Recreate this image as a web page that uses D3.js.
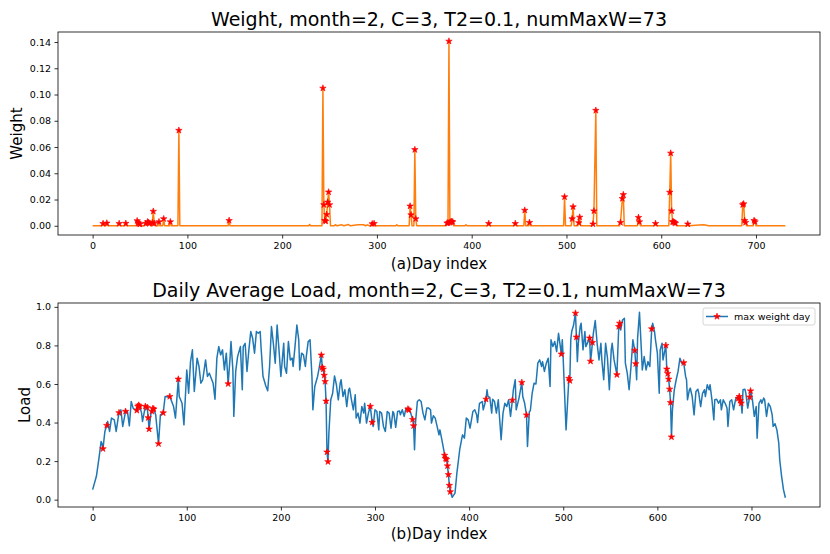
<!DOCTYPE html>
<html>
<head>
<meta charset="utf-8">
<script src="https://cdn.jsdelivr.net/npm/d3@7"></script>
<style>
  body { margin: 0; background: #fff; }
  svg { font-family: "DejaVu Sans", sans-serif; }
</style>
</head>
<body>
<div id="chart"></div>
<script>
// Days flagged as max-weight days (numMaxW = 73)
const maxDays = [11, 15, 28, 35, 47, 48, 49, 50, 56, 58, 59, 60, 63, 64, 65, 70, 75, 82, 91, 144,
    243, 244, 245, 246, 247, 248, 249, 250, 295, 297, 335, 336, 340, 341,
    374, 375, 376, 377, 378, 379, 380, 418, 446, 456, 461, 498, 506, 507, 513, 514,
    528, 529, 531, 557, 559, 560, 576, 577, 594, 609, 610, 611, 612, 613, 614, 615,
    628, 686, 687, 688, 689, 698, 699];

// Weight curve: listed only around the places where it leaves zero
const weightDays = [0, 10, 11, 12, 14, 15, 16, 27, 28, 29, 34, 35, 36, 46, 47, 48, 49, 50, 51, 55, 56, 57, 58, 59, 60,
    61, 62, 63, 64, 65, 66, 69, 70, 71, 74, 75, 76, 81, 82, 83, 90, 91, 92, 143, 144, 145, 228, 229, 230,
    242, 243, 244, 245, 246, 247, 248, 249, 250, 251, 255, 256, 258, 263, 265, 270, 272, 280, 286, 288, 290, 292,
    294, 295, 296, 297, 298, 320, 321, 322, 334, 335, 336, 337, 339, 340, 341, 342,
    373, 374, 375, 376, 377, 378, 379, 380, 381, 393, 394, 395, 417, 418, 419, 445, 446, 447, 455, 456, 457,
    460, 461, 462, 497, 498, 499, 505, 506, 507, 508, 512, 513, 514, 515, 527, 528, 529, 531, 532,
    556, 557, 559, 560, 561, 575, 576, 577, 578, 593, 594, 595, 608, 609, 610, 611, 612, 613, 614, 615, 616,
    627, 628, 629, 640, 645, 650, 685, 686, 687, 688, 689, 690, 697, 698, 699, 700, 731];
const weightValues = [0, 0, 0.0017, 0, 0, 0.002, 0, 0, 0.0017, 0, 0, 0.0018, 0, 0, 0.0038, 0.0022, 0.0015, 0.0012, 0, 0, 0.0018, 0.0006, 0.003, 0.0025, 0.0018,
    0, 0, 0.0022, 0.011, 0.0018, 0, 0, 0.003, 0, 0, 0.0053, 0, 0, 0.003, 0, 0, 0.0727, 0, 0, 0.004, 0, 0, 0.001, 0,
    0, 0.1048, 0.016, 0.004, 0.0035, 0.0086, 0.018, 0.0257, 0.016, 0, 0, 0.0008, 0, 0.0007, 0, 0.0009, 0, 0.0008, 0.0008, 0, 0.0007, 0,
    0, 0.0015, 0.0005, 0.0017, 0, 0, 0.0008, 0, 0, 0.015, 0.0083, 0, 0, 0.058, 0.0053, 0,
    0, 0.002, 0.0022, 0.1406, 0.0025, 0.003, 0.0032, 0.003, 0, 0, 0.0008, 0, 0, 0.0017, 0, 0, 0.0017, 0, 0, 0.0118, 0,
    0, 0.0025, 0, 0, 0.022, 0, 0, 0.0053, 0.0144, 0, 0, 0.0023, 0.0065, 0, 0, 0.0013, 0.0113, 0.0879, 0,
    0, 0.0025, 0.0207, 0.0237, 0, 0, 0.0063, 0.003, 0, 0, 0.0017, 0, 0, 0.0255, 0.0553, 0.0113, 0.003, 0.003, 0.0025, 0.002, 0,
    0, 0.0013, 0, 0.0006, 0.0007, 0, 0, 0.016, 0.0167, 0.004, 0.0025, 0, 0, 0.004, 0.003, 0, 0];

// Daily average load
const loadDays = [0, 4, 7, 9, 10, 11, 13, 15, 16, 18, 20, 23, 25, 28, 30, 32, 35, 37, 39, 41, 43, 45, 47, 48, 49, 50,
    52, 53, 56, 57, 58, 59, 60, 62, 63, 64, 65, 67, 70, 72, 75, 77, 80, 82, 84, 86, 88, 91, 92, 95, 97,
    100, 102, 104, 106, 108, 111, 113, 115, 117, 120, 122, 124, 126, 128, 130, 132, 134, 136, 138, 140, 142, 144, 146, 147, 149,
    150, 152, 154, 157, 159, 160, 162, 164, 166, 168, 170, 172, 174, 176, 178, 179, 181, 184, 186, 188, 190, 192, 194, 196, 198,
    200, 203, 204, 206, 208, 210, 212, 213, 215, 217, 219, 220, 222, 224, 226, 227, 229, 231, 233, 234, 236, 239, 241,
    243, 244, 245, 246, 247, 248, 249, 250, 251, 253, 255, 257, 259, 261, 263, 264, 266, 268, 270, 272, 273, 275, 277, 279,
    280, 282, 284, 286, 288, 289, 291, 293, 295, 297, 298, 300, 302, 304, 305, 307, 309, 311, 313, 315, 317, 319, 320, 322, 324,
    326, 327, 329, 331, 333, 335, 336, 338, 340, 341, 342, 343, 345, 347, 349, 351, 353, 355, 357, 359, 360, 362, 364, 366, 368,
    369, 371, 373, 374, 375, 376, 377, 378, 379, 380, 382, 385, 387, 390, 392, 393, 395, 397, 399, 401, 404, 406, 408, 409,
    411, 414, 415, 418, 419, 420, 422, 424, 425, 427, 429, 431, 432, 434, 436, 438, 440, 442, 444, 446, 447, 449, 450, 453,
    456, 457, 459, 461, 462, 464, 465, 467, 469, 471, 473, 475, 477, 478, 480, 482, 484, 486, 487, 489, 491, 493, 495, 498, 499,
    500, 503, 506, 507, 508, 509, 511, 513, 514, 515, 516, 518, 519, 521, 523, 524, 528, 529, 530, 531, 532, 534, 536, 538,
    540, 541, 543, 545, 547, 549, 551, 552, 554, 557, 559, 560, 561, 563, 565, 566, 568, 570, 572, 574, 576, 577, 578, 579,
    581, 583, 584, 586, 588, 590, 592, 594, 595, 597, 598, 600, 602, 603, 605, 606, 609, 610, 611, 612, 613, 614, 615, 616, 618,
    620, 622, 624, 626, 628, 630, 631, 632, 634, 635, 637, 639, 641, 643, 644, 646, 648, 650, 651, 653, 655, 656, 658,
    660, 661, 663, 665, 667, 668, 670, 672, 674, 675, 677, 679, 681, 683, 684, 686, 687, 688, 689, 690, 691, 693, 694, 696, 698, 699,
    700, 701, 703, 705, 706, 708, 710, 711, 713, 714, 716, 718, 720, 722, 723, 725, 727, 729, 730, 732, 734, 736];
const loadValues = [0.052, 0.121, 0.225, 0.302, 0.29, 0.264, 0.354, 0.385, 0.406, 0.354, 0.423, 0.414, 0.354, 0.451, 0.466, 0.38, 0.458, 0.457, 0.383, 0.509, 0.475, 0.466, 0.463, 0.484, 0.49, 0.484,
    0.449, 0.406, 0.484, 0.48, 0.478, 0.425, 0.366, 0.449, 0.458, 0.473, 0.47, 0.44, 0.29, 0.44, 0.45, 0.535, 0.532, 0.535, 0.509, 0.483, 0.423, 0.625, 0.535, 0.5, 0.388,
    0.673, 0.552, 0.716, 0.777, 0.561, 0.734, 0.691, 0.604, 0.622, 0.725, 0.639, 0.656, 0.63, 0.604, 0.521, 0.734, 0.794, 0.751, 0.777, 0.673, 0.76, 0.601, 0.734, 0.82, 0.673,
    0.432, 0.665, 0.742, 0.794, 0.57, 0.794, 0.811, 0.665, 0.777, 0.872, 0.837, 0.76, 0.872, 0.863, 0.872, 0.785, 0.64, 0.59, 0.565, 0.691, 0.898, 0.811, 0.708, 0.906, 0.777,
    0.639, 0.811, 0.691, 0.656, 0.82, 0.725, 0.734, 0.691, 0.794, 0.906, 0.829, 0.673, 0.76, 0.751, 0.691, 0.742, 0.82, 0.829, 0.639, 0.466, 0.587, 0.639, 0.691,
    0.75, 0.686, 0.677, 0.645, 0.613, 0.511, 0.247, 0.197, 0.345, 0.518, 0.552, 0.642, 0.596, 0.518, 0.604, 0.622, 0.535, 0.57, 0.483, 0.57, 0.578, 0.518, 0.466, 0.544,
    0.423, 0.449, 0.397, 0.483, 0.449, 0.5, 0.397, 0.449, 0.484, 0.401, 0.38, 0.466, 0.457, 0.362, 0.457, 0.449, 0.38, 0.354, 0.457, 0.449, 0.371, 0.457, 0.449, 0.375, 0.457,
    0.46, 0.44, 0.466, 0.432, 0.475, 0.47, 0.465, 0.449, 0.416, 0.383, 0.259, 0.397, 0.509, 0.518, 0.509, 0.449, 0.414, 0.475, 0.475, 0.466, 0.397, 0.435, 0.423, 0.38, 0.336,
    0.362, 0.311, 0.259, 0.23, 0.214, 0.209, 0.175, 0.13, 0.074, 0.041, 0.012, 0.034, 0.138, 0.259, 0.311, 0.336, 0.319, 0.423, 0.414, 0.371, 0.457, 0.466, 0.44, 0.4,
    0.5, 0.509, 0.466, 0.521, 0.57, 0.535, 0.53, 0.449, 0.521, 0.509, 0.449, 0.518, 0.449, 0.311, 0.449, 0.5, 0.483, 0.518, 0.432, 0.516, 0.57, 0.622, 0.466, 0.527,
    0.608, 0.535, 0.5, 0.439, 0.276, 0.457, 0.46, 0.552, 0.604, 0.6, 0.708, 0.725, 0.691, 0.716, 0.665, 0.708, 0.734, 0.587, 0.829, 0.794, 0.82, 0.768, 0.863, 0.755, 0.829,
    0.725, 0.362, 0.629, 0.617, 0.829, 0.872, 0.906, 0.967, 0.843, 0.716, 0.811, 0.898, 0.915, 0.777, 0.872, 0.794, 0.838, 0.718, 0.76, 0.815, 0.863, 0.929, 0.811, 0.725,
    0.811, 0.725, 0.622, 0.811, 0.734, 0.57, 0.777, 0.811, 0.725, 0.648, 0.898, 0.915, 0.88, 0.932, 0.941, 0.708, 0.656, 0.57, 0.691, 0.829, 0.774, 0.705, 0.622, 0.837,
    0.972, 0.777, 0.673, 0.742, 0.673, 0.716, 0.691, 0.886, 0.915, 0.872, 0.829, 0.76, 0.552, 0.777, 0.811, 0.725, 0.8, 0.677, 0.654, 0.625, 0.573, 0.504, 0.325, 0.466, 0.57,
    0.622, 0.665, 0.734, 0.708, 0.71, 0.639, 0.622, 0.518, 0.57, 0.578, 0.535, 0.44, 0.561, 0.573, 0.552, 0.483, 0.552, 0.57, 0.535, 0.596, 0.57, 0.596, 0.518,
    0.414, 0.518, 0.521, 0.5, 0.518, 0.466, 0.518, 0.5, 0.475, 0.38, 0.509, 0.518, 0.466, 0.518, 0.53, 0.525, 0.535, 0.515, 0.5, 0.449, 0.57, 0.573, 0.552, 0.475, 0.532, 0.564,
    0.544, 0.518, 0.432, 0.483, 0.319, 0.5, 0.518, 0.5, 0.527, 0.518, 0.432, 0.5, 0.483, 0.44, 0.38, 0.394, 0.362, 0.293, 0.207, 0.121, 0.052, 0.01];

const dayTicks = [0, 100, 200, 300, 400, 500, 600, 700];
const weightTicks = [0, 0.02, 0.04, 0.06, 0.08, 0.10, 0.12, 0.14];
const loadTicks = [0, 0.2, 0.4, 0.6, 0.8, 1.0];

const width = 830;
const height = 554;

const svg = d3.select("#chart")
    .append("svg")
    .attr("width", width)
    .attr("height", height);

// matplotlib style 5% padding around the data range
function padded(ext) {
    const pad = (ext[1] - ext[0]) * 0.05;
    return [ext[0] - pad, ext[1] + pad];
}

function star(g, points, x, y) {
    g.selectAll(".star")
        .data(points)
        .enter()
        .append("path")
        .attr("class", "star")
        .attr("transform", d => `translate(${x(d[0])},${y(d[1])})`)
        .attr("d", d3.symbol(d3.symbolStar, 13))
        .attr("fill", "#ff0000")
        .attr("stroke", "#ff0000")
        .attr("stroke-width", 0.6);
}

function drawPanel(p) {
    const x = d3.scaleLinear().domain(padded(d3.extent(p.days))).range([p.left, p.right]);
    const y = d3.scaleLinear().domain(padded(d3.extent(p.values))).range([p.bottom, p.top]);

    const g = svg.append("g");

    // axes
    const xAxis = g.append("g")
        .attr("transform", `translate(0,${p.bottom})`)
        .call(d3.axisBottom(x).tickValues(dayTicks).tickFormat(d3.format("d"))
            .tickSize(3.5).tickPadding(3.5).tickSizeOuter(0));
    const yAxis = g.append("g")
        .attr("transform", `translate(${p.left},0)`)
        .call(d3.axisLeft(y).tickValues(p.ticks).tickFormat(d3.format(p.fmt))
            .tickSize(3.5).tickPadding(3.5).tickSizeOuter(0));
    [xAxis, yAxis].forEach(a => {
        a.select(".domain").remove();
        a.selectAll("text").attr("font-size", "9.5px").attr("fill", "#000")
            .attr("font-family", "DejaVu Sans, sans-serif");
        a.selectAll("line").attr("stroke", "#000").attr("stroke-width", 0.8);
    });

    // series line
    const pts = p.days.map((d, i) => [d, p.values[i]]);
    const line = d3.line().x(d => x(d[0])).y(d => y(d[1]));
    g.append("path")
        .datum(pts)
        .attr("d", line)
        .attr("fill", "none")
        .attr("stroke", p.color)
        .attr("stroke-width", 1.5)
        .attr("stroke-linejoin", "round");

    // max weight day markers
    const lookup = new Map(pts);
    star(g, maxDays.map(d => [d, lookup.get(d)]), x, y);

    // frame
    g.append("rect")
        .attr("x", p.left)
        .attr("y", p.top)
        .attr("width", p.right - p.left)
        .attr("height", p.bottom - p.top)
        .attr("fill", "none")
        .attr("stroke", "#000")
        .attr("stroke-width", 0.8);

    // texts
    g.append("text")
        .attr("x", (p.left + p.right) / 2)
        .attr("y", p.titleY)
        .attr("text-anchor", "middle")
        .attr("font-size", "19px")
        .text(p.title);
    g.append("text")
        .attr("x", (p.left + p.right) / 2)
        .attr("y", p.xLabelY)
        .attr("text-anchor", "middle")
        .attr("font-size", "15px")
        .text(p.xLabel);
    g.append("text")
        .attr("transform", `translate(${p.yLabelX},${(p.top + p.bottom) / 2}) rotate(-90)`)
        .attr("text-anchor", "middle")
        .attr("font-size", "15px")
        .text(p.yLabel);

    return { g, x, y };
}

drawPanel({
    days: weightDays, values: weightValues, ticks: weightTicks, fmt: ".2f",
    left: 58, right: 820, top: 32, bottom: 235, color: "#ff7f0e",
    title: "Weight, month=2, C=3, T2=0.1, numMaxW=73", titleY: 26,
    xLabel: "(a)Day index", xLabelY: 269, yLabel: "Weight", yLabelX: 22
});

drawPanel({
    days: loadDays, values: loadValues, ticks: loadTicks, fmt: ".1f",
    left: 58, right: 820, top: 303, bottom: 507, color: "#1f77b4",
    title: "Daily Average Load, month=2, C=3, T2=0.1, numMaxW=73", titleY: 297,
    xLabel: "(b)Day index", xLabelY: 539, yLabel: "Load", yLabelX: 30
});

// legend
const legend = svg.append("g");
legend.append("rect")
    .attr("x", 703)
    .attr("y", 308)
    .attr("width", 112)
    .attr("height", 17)
    .attr("rx", 2)
    .attr("fill", "#fff")
    .attr("fill-opacity", 0.8)
    .attr("stroke", "#cccccc")
    .attr("stroke-width", 0.8);
legend.append("line")
    .attr("x1", 706).attr("x2", 728)
    .attr("y1", 316.5).attr("y2", 316.5)
    .attr("stroke", "#1f77b4")
    .attr("stroke-width", 1.5);
legend.append("path")
    .attr("transform", "translate(717,316.5)")
    .attr("d", d3.symbol(d3.symbolStar, 13))
    .attr("fill", "#ff0000")
    .attr("stroke", "#ff0000")
    .attr("stroke-width", 0.6);
legend.append("text")
    .attr("x", 734)
    .attr("y", 320)
    .attr("font-size", "9.5px")
    .text("max weight day");
</script>
</body>
</html>
